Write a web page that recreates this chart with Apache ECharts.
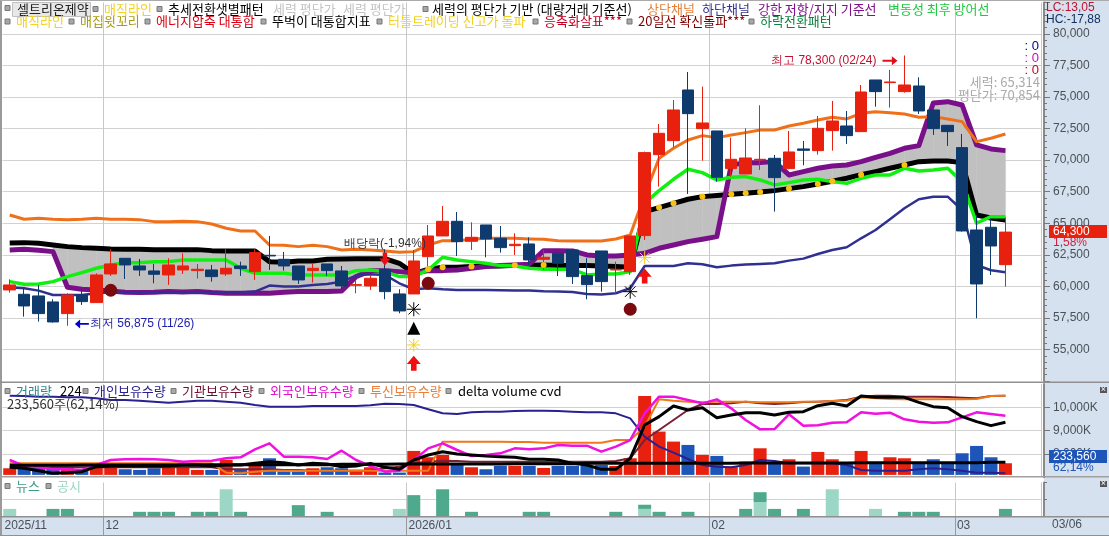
<!DOCTYPE html>
<html>
<head>
<meta charset="utf-8">
<style>
html, body { margin: 0; padding: 0; background: #fff; }
#main { width: 1109px; height: 536px; }
</style>
<script src="https://cdn.jsdelivr.net/npm/echarts@6/dist/echarts.min.js"></script>
</head>
<body>
<div id="main"></div>
<script>
// trading days, two empty slots at the right end
const dates = [
    '11/20','11/21','11/24','11/25','11/26','11/27','11/28',
    '12/01','12/02','12/03','12/04','12/05','12/08','12/09','12/10','12/11','12/12',
    '12/15','12/16','12/17','12/18','12/19','12/22','12/23','12/24','12/26','12/29','12/30',
    '01/02','01/05','01/06','01/07','01/08','01/09','01/12','01/13','01/14','01/15','01/16',
    '01/19','01/20','01/21','01/22','01/23','01/26','01/27','01/28','01/29','01/30',
    '02/02','02/03','02/04','02/05','02/06','02/09','02/10','02/11','02/12','02/13',
    '02/19','02/20','02/23','02/24','02/25','02/26','02/27',
    '03/03','03/04','03/05','03/06','',''
];
const monthStarts = [0, 7, 28, 49, 66];
const monthNames = ['2025/11', '12', '2026/01', '02', '03'];

// open, close, low, high
const candles = [
    [59716,60112,59504,60561],[59372,58448,57603,59927],[59240,57841,57207,60112],[58765,57180,57127,58976],
    [57841,59320,56875,59452],[59320,58791,58527,59716],[58712,60904,58712,61036],[60983,61776,60825,62938],
    [62225,61697,60587,62225],[61617,61300,60825,62172],[61221,60957,60244,61776],[60904,61697,60112,62225],
    [61300,61617,60983,62621],[61248,61353,60614,61776],[61300,60772,60376,61697],[60983,61432,60825,62938],
    [61617,61406,60825,61960],[61168,62674,60508,62938],[62462,62410,61300,63994],[62145,61617,61248,62727],
    [61617,60508,60191,61617],[61248,61432,60297,61776],[61776,61248,60825,61776],[61221,60033,59769,61617],
    [60085,60138,59452,60508],[60033,60640,59716,60904],[61353,59584,58976,62938],[59399,58052,57867,59769],
    [59399,62013,59399,62885],[62357,63994,61512,64866],[63994,65156,63994,66371],[65156,63545,62410,65896],
    [63572,63888,62885,65077],[64866,63757,62304,64866],[63809,63070,62674,64786],[63228,63334,62489,64205],
    [63360,62093,61697,63888],[62145,62304,61300,62885],[62621,61829,60825,62621],[62885,60772,60191,62885],
    [60851,60138,58976,62225],[62806,60376,59584,62806],[61300,61353,59452,61960],[61168,63994,60904,63994],
    [64022,70599,63679,70678],[70440,72130,67905,72870],[71549,73979,71021,74771],[75564,73688,67324,76990],
    [72500,72949,69965,75828],[72315,68644,68301,72315],[69331,70070,68697,71787],[68908,70176,68908,72526],
    [70018,70070,69225,74349],[70149,68618,65924,70414],[69331,70651,69278,72315],[70889,70783,69595,71523],
    [70757,72526,70440,73504],[72342,73107,70757,74692],[72711,71945,71285,73900],[72262,75405,72262,75960],
    [76356,75432,74243,76356],[76145,76197,74164,77148],[75432,75960,75352,78300],[75880,73900,73662,76567],
    [73979,72500,71998,73979],[72764,72262,71127,72764],[70995,64392,64339,72077],[64469,60190,57472,65658],
    [64683,63201,60903,65396],[61719,64300,59976,65261]
];

const upperChannel = [
    65658,65315,65394,65315,65288,65315,65394,65315,65315,65288,65130,65130,65156,65130,64945,64602,64390,64390,
    63281,63255,63149,63255,63149,62885,62938,62885,62806,62700,62753,63281,63624,63624,63730,63809,63809,63809,
    63757,63730,63624,63598,63598,63598,63757,64073,67244,70149,70942,71602,71945,71787,71998,72183,72394,72394,
    72711,72922,73187,73398,73266,73715,73847,73768,73662,73398,73451,73266,73055,71470,71734,72077
];
const lowerChannel = [
    59927,59848,59663,59320,59320,59320,59452,59531,59505,59505,59505,59505,59505,59505,59505,59505,59505,59584,
    60059,59980,59980,60112,60191,60376,60851,60957,60904,60244,59769,59848,59769,59716,59716,59716,59689,59663,
    59663,59610,59584,59557,59399,59346,59452,59848,61617,61617,61617,61829,61749,61512,61644,61723,61776,61829,
    62040,62198,62568,62885,63096,63809,64470,65315,66186,66899,67110,67110,66054,61696,61275,61117
];
const supportLine = [
    63440,63466,63413,63281,63149,63070,63017,62964,62938,62938,62911,62911,62911,62911,62832,62806,62806,62806,
    61960,61908,62013,62013,62145,62172,62198,62198,62198,61829,61036,61353,61512,61512,61565,61617,61617,61670,
    61670,61697,61644,61644,61644,61617,61565,61512,65924,66241,66584,66901,67112,67192,67297,67376,67482,67588,
    67746,67905,68116,68327,68565,68855,69093,69357,69621,69885,69938,69938,69806,65658,65420,65261
];
const magicLine = [
    62885,62938,62859,62753,59927,59768,59716,59637,59531,59505,59531,59584,59557,59584,59505,59452,59452,59478,
    59452,59531,59584,59584,59584,59637,60772,61247,61247,61168,61036,61247,61247,61300,61432,61564,61644,61697,
    61749,62832,62832,62806,62489,62410,62410,62489,62621,63017,63281,63545,63730,63941,69621,69806,69806,69885,
    68829,69093,69357,69542,69621,69885,70229,70546,70942,71153,74533,74639,74375,71206,70889,70757
];
const defenseLine = [
    60376,60165,60191,60376,60772,61089,61432,61697,61881,61881,61960,61960,62093,62093,62093,62093,61432,61036,
    61036,61036,60904,60904,60904,60904,61247,61300,61168,60772,60772,61300,62304,62093,61960,61829,61644,61617,
    61432,61353,61353,61353,60904,60983,60983,61168,66584,67588,68486,69278,69014,68433,68644,68697,68433,68037,
    68222,68433,68486,68301,68169,68565,68829,68829,69357,69146,69225,69357,68301,65000,65523,65523
];
const dotIndexes = [29,30,32,35,37,45,46,48,50,51,52,54,56,57,59,62];
const circleIndexes = [7,29,43];
const circlePrices = [59691,60246,58185];
const starIndexes = [28,43];
const starPrices = [58185,59580];
const goldStarIndexes = [28,44];
const goldStarPrices = [55356,62274];
const triangleIndexes = [28];
const trianglePrices = [56680];
const upArrowIndexes = [28,44];
const upArrowPrices = [53906,60824];
const dividendIndex = 26;
const dividendPrice = 62170;
const dividendText = '배당락(-1,94%)';
const lowIndex = 5;
const lowPrice = 57020;
const lowText = '최저 56,875 (11/26)';
const highIndex = 61;
const highPrice = 77880;
const highText = '최고 78,300 (02/24)';

const volumes = [
    133000,167000,180000,133000,153000,87000,153000,180000,113000,100000,133000,153000,153000,100000,100000,300000,
    113000,180000,333000,67000,67000,133000,153000,133000,100000,153000,47000,47000,480000,353000,400000,200000,
    153000,113000,180000,180000,180000,140000,180000,180000,180000,200000,180000,333000,1580000,867000,667000,600000,
    400000,380000,167000,267000,533000,233000,313000,167000,460000,313000,233000,480000,233000,353000,333000,233000,
    313000,233000,433000,580000,353000,233560
];
const volumeDown = [1,2,3,5,8,9,10,14,16,18,19,20,22,23,26,27,31,33,34,36,38,39,40,41,47,49,53,55,58,60,63,64,65,66,67,68];
const individualHold = [
    10499,10485,10456,10456,10428,10428,10385,10313,10313,10285,10242,10199,10242,10285,10285,10242,10199,10099,
    10027,10027,10027,10056,10056,10056,10056,10084,10156,10142,10099,9913,9741,9712,9784,9813,9813,9841,
    9856,9856,9841,9813,9784,9784,9741,9526,8739,8310,8052,7781,7523,7451,7423,7523,7738,7695,
    7595,7595,7595,7595,7523,7308,7280,7280,7280,7337,7380,7337,7280,7194,7194,7165
];
const institutionHold = [
    7423,7423,7423,7423,7423,7423,7423,7423,7423,7423,7423,7423,7423,7423,7423,7337,7337,7337,
    7337,7308,7308,7280,7280,7280,7280,7280,7380,7451,7594,7666,7709,7695,7666,7666,7666,7666,
    7666,7666,7666,7666,7666,7666,7695,7809,8596,9025,9455,9884,10142,10142,10170,10242,10170,10142,
    10170,10227,10242,10270,10313,10456,10499,10499,10456,10456,10456,10442,10414,10385,10485,10499
];
const foreignHold = [
    7738,7480,7423,7337,7337,7308,7523,7738,7766,7781,7766,7738,7666,7695,7709,7809,7852,8195,
    8453,7881,7881,7852,7781,8138,7738,7480,7237,7280,7738,8238,8453,8167,7909,7952,8024,8238,
    8195,8238,8382,8353,8353,8095,8310,8596,9741,10457,10457,10313,10170,10342,9956,9455,9054,9068,
    9698,9212,9226,9340,9355,9784,9727,9770,9483,9383,9340,9355,9569,9784,9712,9641
];
const trustHold = [
    7594,7594,7594,7594,7594,7594,7594,7594,7594,7594,7594,7594,7594,7594,7594,7194,7165,7237,
    7280,7280,7280,7280,7280,7280,7280,7280,7280,7280,7280,7280,8525,8525,8525,8525,8525,8510,
    8510,8482,8482,8482,8482,8482,8596,8596,9169,10342,10285,10242,10213,10242,10242,10242,10213,10213,
    10213,10242,10242,10270,10285,10428,10385,10356,10342,10342,10342,10342,10342,10356,10485,10499
];
const deltaCvd = [
    7423,7380,7280,7165,7194,7237,7451,7480,7480,7480,7480,7480,7523,7523,7480,7523,7523,7594,
    7666,7623,7523,7594,7566,7451,7480,7594,7423,7337,7738,7952,8095,7995,7952,7909,7881,7852,
    7766,7766,7738,7594,7523,7337,7337,7809,9240,9598,10056,9884,9984,9555,9669,9770,9770,9669,
    9784,9813,10070,10170,10056,10485,10428,10428,10428,10213,10027,9984,9598,9383,9212,9355
];
const deltaCvdAvg = [
    7509,7509,7509,7509,7509,7523,7523,7523,7523,7523,7523,7523,7523,7523,7537,7537,7537,7537,
    7537,7537,7537,7537,7537,7552,7552,7552,7552,7566,7566,7566,7566,7566,7566,7566,7566,7580,
    7580,7580,7580,7580,7594,7594,7594,7594,7594,7594,7594,7594,7594,7594,7594,7609,7609,7609,
    7609,7609,7609,7609,7609,7623,7623,7623,7623,7623,7623,7623,7623,7623,7637,7637
];

const filingBars = [
    1.7,0,0,0,0,0,0,0,0,0,0,0,0,0,0,6.4,0,0,0,0,0,0,0,0,0,0,0,1.7,0,0,
    0,0,0,0,0,0,0,0,0,0,0,0,0,0,1.7,0,0,0,0,0,0,0,3.3,0,0,0,0,6.4,0,0,
    1.7,0,0,0,0,0,0,0,0,0
];
const newsBars = [
    0,0,0,1.7,1.7,0,0,0,0,1,1,1,0,1,1,0,1,0,0,0,2.6,0,1,0,0,0,0,0,5,0,
    6.4,0,1,0,0,0,1,1,0,0,0,0,1,0,1,1,0,1,0,0,0,1.7,2.4,1.7,0,1.7,0,0,0,0,
    0,0,1,1,1,0,0,0,0,1.7
];

const legendFont = '13px "Noto Sans CJK KR"';
const numFont = '12px "Liberation Sans"';
const counterFont = '13px "Liberation Sans"';

const row1Names = ['매직라인','추세전환샛별패턴','세력 평단가','세력 평단가','세력의 평단가 기반 (대량거래 기준선)','상단채널','하단채널','강한 저항/지지 기준선','변동성 최후 방어선'];
const row1Colors = ['#f3d21f','#000000','#c4c4c4','#c4c4c4','#000000','#e8803c','#33338c','#80108c','#20c840'];
const row1TextX = [104,168,273,343,432,647,702,758,888];
const row1SquareX = [93,157,423];
const row2Names = ['매직라인','매집윗꼬리','에너지압축 대통합','뚜벅이 대통합지표','터틀트레이딩 신고가 돌파','응축화살표***','20일선 확신돌파***','하락전환패턴'];
const row2Colors = ['#f3d21f','#a89a10','#d80010','#000000','#f3d21f','#c00020','#800000','#108040'];
const row2TextX = [16,80,156,272,388,544,638,760];
const row2SquareX = [5,69,145,261,377,533,627,749];
const volNames = ['거래량','224','개인보유수량','기관보유수량','외국인보유수량','투신보유수량','delta volume cvd'];
const volColors = ['#2a8a90','#000000','#2a2090','#701030','#e010d0','#e8803c','#000000'];
const volTextX = [16,60,94,182,270,370,458];
const volSquareX = [5,83,171,259,359,446];
const newsNames = ['뉴스','공시'];
const newsColors = ['#3f9e88','#9cd6c4'];
const newsTextX = [16,57];
const newsSquareX = [5,46];

const upArrow = 'path://M5,0 L10,6 L7,6 L7,11 L3,11 L3,6 L0,6 Z';
const downArrow = 'path://M3,0 L7,0 L7,5 L10,5 L5,11 L0,5 L3,5 Z';
const leftArrow = 'path://M0,5 L6,0 L6,4 L16,4 L16,6 L6,6 L6,10 Z';
const rightArrow = 'path://M16,5 L10,0 L10,4 L0,4 L0,6 L10,6 L10,10 Z';
const asterisk = 'path://M6,0 L6,12 M0,6 L12,6 M1.5,1.5 L10.5,10.5 M10.5,1.5 L1.5,10.5';

function pairs(indexes, values) {
    return indexes.map((idx, n) => [idx, values[n]]);
}

function textItem(text, x, y, color, font, align) {
    return {
        type: 'text', x: x, y: y, z: 60,
        style: { text: text, fill: color, font: font || legendFont, textAlign: align || 'left', textVerticalAlign: 'middle' }
    };
}

function squareItem(x, y) {
    return {
        type: 'rect', z: 60,
        shape: { x: x, y: y - 2.5, width: 5, height: 5 },
        style: { fill: '#a8a8a8', stroke: '#777', lineWidth: 1 }
    };
}

function backgroundRect(x, y, w, h, color, z) {
    return { type: 'rect', z: z, shape: { x: x, y: y, width: w, height: h }, style: { fill: color } };
}

function closeButton(x, y) {
    return [
        backgroundRect(x, y, 7, 6, '#555', 60),
        { type: 'text', x: x + 3.5, y: y + 3, z: 61, style: { text: '×', fill: '#fff', font: '9px sans-serif', textAlign: 'center', textVerticalAlign: 'middle' } }
    ];
}

function legendGroup(names, colors, textX, squareX, y) {
    const items = [];
    names.forEach((name, i) => items.push(textItem(name, textX[i], y, colors[i])));
    squareX.forEach(x => items.push(squareItem(x, y)));
    return items;
}

function lineSeries(name, values, color, width, axisIndex, z) {
    return {
        name: name, type: 'line', data: values, xAxisIndex: axisIndex[0], yAxisIndex: axisIndex[1],
        symbol: 'none', z: z, silent: true, animation: false,
        lineStyle: { color: color, width: width, join: 'round' }
    };
}

function markSeries(data, symbol, size, color, z, stroked) {
    return {
        type: 'scatter', data: data, xAxisIndex: 0, yAxisIndex: 0, symbol: symbol, symbolSize: size, z: z, animation: false,
        itemStyle: stroked ? { color: 'none', borderColor: color, borderWidth: 1, opacity: 1 } : { color: color, opacity: 1 }
    };
}

function noteSeries(index, price, symbol, size, color, text, textColor, position, distance) {
    return {
        type: 'scatter', data: [[index, price]], xAxisIndex: 0, yAxisIndex: 0, symbol: symbol, symbolSize: size, z: 8, animation: false,
        itemStyle: { color: color, opacity: 1 },
        label: { show: true, formatter: text, position: position, distance: distance, color: textColor, font: legendFont, opacity: 1 }
    };
}

const chart = echarts.init(document.getElementById('main'), null, { renderer: 'canvas' });

const gridLine = { show: true, lineStyle: { color: '#d2d2d2', width: 1 } };
const monthLine = {
    show: true,
    interval: index => monthStarts.includes(index) && index > 0,
    lineStyle: { color: '#c8c8c8', width: 1 }
};
const edgeLine = { show: true, lineStyle: { color: '#8a8a8a', width: 2 } };
const priceText = { color: '#4a5058', font: numFont, margin: 9 };

function paneX(gridIndex) {
    return {
        type: 'category', gridIndex: gridIndex, data: dates, boundaryGap: true,
        axisLine: { show: false }, axisTick: { show: false }, axisLabel: { show: false }, splitLine: monthLine
    };
}

const option = {
    animation: false,
    backgroundColor: '#ffffff',
    grid: [
        { left: 2.5, top: 2.45, width: 1039, height: 378.55 },
        { left: 2.5, top: 384, width: 1039, height: 93.2 },
        { left: 2.5, top: 482.6, width: 1039, height: 33.4 },
        { left: 2.5, top: 516, width: 1039, height: 1 }
    ],
    xAxis: [
        paneX(0),
        paneX(1),
        paneX(2),
        {
            type: 'category', gridIndex: 3, boundaryGap: false,
            data: dates.concat(['']),
            axisLine: { show: false },
            axisTick: { show: true, length: 19, interval: index => monthStarts.includes(index) && index > 0, lineStyle: { color: '#9a9a9a' } },
            axisLabel: {
                show: true, align: 'left', margin: 3, color: '#4a5058', font: numFont, padding: [0, 0, 0, 2],
                interval: index => monthStarts.includes(index),
                formatter: (value, index) => monthNames[monthStarts.indexOf(index)] || ''
            }
        }
    ],
    yAxis: [
        {
            type: 'value', gridIndex: 0, position: 'right', offset: 2.5, min: 52500, max: 82500, interval: 2500,
            splitLine: { show: true, showMinLine: false, showMaxLine: false, lineStyle: gridLine.lineStyle },
            axisLine: edgeLine,
            axisTick: { show: true, length: 6, lineStyle: { color: '#777' } },
            minorTick: { show: true, splitNumber: 5, length: 3, lineStyle: { color: '#777' } },
            axisLabel: Object.assign({ showMinLabel: false, showMaxLabel: false, formatter: v => echarts.format.addCommas(v) }, priceText)
        },
        {
            type: 'value', gridIndex: 1, position: 'right', offset: 2.5, min: 7000, max: 11000, interval: 1000,
            splitLine: { show: true, showMinLine: false, showMaxLine: false, lineStyle: gridLine.lineStyle },
            axisLine: edgeLine,
            axisTick: { show: true, length: 6, lineStyle: { color: '#777' } },
            axisLabel: Object.assign({ showMinLabel: false, showMaxLabel: false, formatter: v => echarts.format.addCommas(v) + 'K' }, priceText)
        },
        // volume bars have their own scale, zero sits just above the pane edge
        { type: 'value', gridIndex: 1, min: -46000, max: 1820000, show: false, splitLine: { show: false } },
        {
            type: 'value', gridIndex: 2, position: 'right', offset: 2.5, min: 0, max: 8, interval: 4,
            splitLine: { show: true, showMinLine: false, showMaxLine: false, lineStyle: gridLine.lineStyle },
            axisLine: edgeLine,
            axisTick: { show: true, length: 3, lineStyle: { color: '#777' } },
            axisLabel: { show: false }
        },
        { type: 'value', gridIndex: 3, min: 0, max: 1, show: false, splitLine: { show: false } }
    ],
    graphic: { elements: [
        backgroundRect(1044, 0, 65, 536, '#d5e1ee', -2),
        backgroundRect(0, 516, 1109, 20, '#d5e1ee', -2),
        backgroundRect(0, 0, 2, 536, '#9a9a9a', 55),
        backgroundRect(0, 0, 1109, 1, '#aaaaaa', 55),
        backgroundRect(0, 381.5, 1109, 1.5, '#909090', 55),
        backgroundRect(0, 476, 1109, 1.5, '#a0a0a0', 55),
        backgroundRect(0, 516, 1109, 1.5, '#909090', 55),
        backgroundRect(0, 535, 1109, 1, '#909090', 55),
        { type: 'rect', z: 59, shape: { x: 12.5, y: 2.5, width: 78, height: 14 }, style: { fill: '#e8e8e8', stroke: '#c0c0c0', lineWidth: 1 } },
        squareItem(5, 8),
        textItem('셀트리온제약', 17, 9, '#222'),
        ...legendGroup(row1Names, row1Colors, row1TextX, row1SquareX, 9),
        ...legendGroup(row2Names, row2Colors, row2TextX, row2SquareX, 21.5),
        ...legendGroup(volNames, volColors, volTextX, volSquareX, 391),
        textItem('233,560주(62,14%)', 7, 404, '#333'),
        ...legendGroup(newsNames, newsColors, newsTextX, newsSquareX, 486),
        textItem('LC:13,05', 1046, 8, '#c01030', numFont),
        textItem('HC:-17,88', 1046, 20, '#103060', numFont),
        textItem(': 0', 1039, 46, '#000090', counterFont, 'right'),
        textItem(': 0', 1039, 58, '#d000d0', counterFont, 'right'),
        textItem(': 0', 1039, 70, '#c00020', counterFont, 'right'),
        textItem('세력: 65,314', 1040, 82, '#aaaaaa', legendFont, 'right'),
        textItem('평단가: 70,854', 1040, 95, '#aaaaaa', legendFont, 'right'),
        backgroundRect(1049, 225, 58, 13, '#e8210f', 58),
        textItem('64,300', 1053, 231.5, '#ffffff', numFont),
        textItem('1,58%', 1053, 243, '#d02040', numFont),
        backgroundRect(1049, 450, 58, 13, '#1d55b8', 58),
        textItem('233,560', 1053, 456.5, '#ffffff', numFont),
        textItem('62,14%', 1053, 468, '#1d55b8', numFont),
        textItem('03/06', 1052, 525, '#4a5058', numFont),
        ...closeButton(1100, 387),
        ...closeButton(1100, 481)
    ] },
    series: [
        {
            type: 'custom', xAxisIndex: 0, yAxisIndex: 0, z: 2, silent: true, animation: false,
            // gray band between the black line and the purple line, one quad per day
            data: dates.slice(3, 69).map((d, n) => [n + 3, supportLine[n + 3], magicLine[n + 3], supportLine[n + 4], magicLine[n + 4]]),
            encode: { x: 0, y: [1, 2] },
            renderItem: (params, api) => ({
                type: 'polygon',
                shape: { points: [
                    api.coord([api.value(0), api.value(1)]),
                    api.coord([api.value(0) + 1, api.value(3)]),
                    api.coord([api.value(0) + 1, api.value(4)]),
                    api.coord([api.value(0), api.value(2)])
                ] },
                style: { fill: '#c0c0c0', stroke: '#c0c0c0', lineWidth: 0.5 }
            })
        },
        lineSeries('강한 저항/지지 기준선', supportLine, '#000000', 5, [0, 0], 3),
        lineSeries('매직라인', magicLine, '#7a0f8a', 5, [0, 0], 3),
        lineSeries('하단채널', lowerChannel, '#303090', 2.5, [0, 0], 3),
        lineSeries('변동성 최후 방어선', defenseLine, '#10f010', 3.5, [0, 0], 3),
        lineSeries('상단채널', upperChannel, '#f0701a', 3, [0, 0], 3),
        {
            name: '셀트리온제약', type: 'candlestick', data: candles, xAxisIndex: 0, yAxisIndex: 0, barWidth: 12, z: 5, silent: true, animation: false,
            itemStyle: { color: '#e8210f', color0: '#0e3a6e', borderColor: '#e8210f', borderColor0: '#0e3a6e', borderWidth: 1 }
        },
        markSeries(pairs(dotIndexes, dotIndexes.map(i => supportLine[i])), 'circle', 6, '#f8c010', 6),
        markSeries(pairs(circleIndexes, circlePrices), 'circle', 13, '#7a0a10', 7),
        markSeries(pairs(starIndexes, starPrices), asterisk, 14, '#000000', 7, true),
        markSeries(pairs(goldStarIndexes, goldStarPrices), asterisk, 13, '#f0d020', 7, true),
        markSeries(pairs(triangleIndexes, trianglePrices), 'triangle', 13, '#000000', 7),
        markSeries(pairs(upArrowIndexes, upArrowPrices), upArrow, [14, 15], '#f01010', 7),
        noteSeries(dividendIndex, dividendPrice, downArrow, [11, 13], '#e81010', dividendText, '#333', 'top', 3),
        noteSeries(lowIndex, lowPrice, leftArrow, [14, 9], '#0000d0', lowText, '#2020b0', 'right', 1),
        noteSeries(highIndex, highPrice, rightArrow, [15, 9], '#e01020', highText, '#c01030', 'left', 6),

        {
            name: '거래량', type: 'bar', data: volumes, xAxisIndex: 1, yAxisIndex: 2, barWidth: 13, z: 2, silent: true, animation: false,
            itemStyle: { color: p => volumeDown.includes(p.dataIndex) ? '#1d55b8' : '#e8210f' }
        },
        lineSeries('기관보유수량', institutionHold, '#7a2035', 2, [1, 1], 3),
        lineSeries('투신보유수량', trustHold, '#f07818', 2, [1, 1], 3),
        lineSeries('개인보유수량', individualHold, '#2a2090', 2, [1, 1], 3),
        lineSeries('외국인보유수량', foreignHold, '#f010e0', 2.5, [1, 1], 3),
        lineSeries('delta volume cvd', deltaCvdAvg, '#000000', 3, [1, 1], 4),
        lineSeries('delta volume cvd', deltaCvd, '#000000', 3, [1, 1], 4),

        { name: '공시', type: 'bar', stack: 'news', data: filingBars, xAxisIndex: 2, yAxisIndex: 3, barWidth: 13, silent: true, animation: false, itemStyle: { color: '#9cd6c4' } },
        { name: '뉴스', type: 'bar', stack: 'news', data: newsBars, xAxisIndex: 2, yAxisIndex: 3, barWidth: 13, silent: true, animation: false, itemStyle: { color: '#4fa98c' } }
    ]
};

chart.setOption(option);
</script>
</body>
</html>
